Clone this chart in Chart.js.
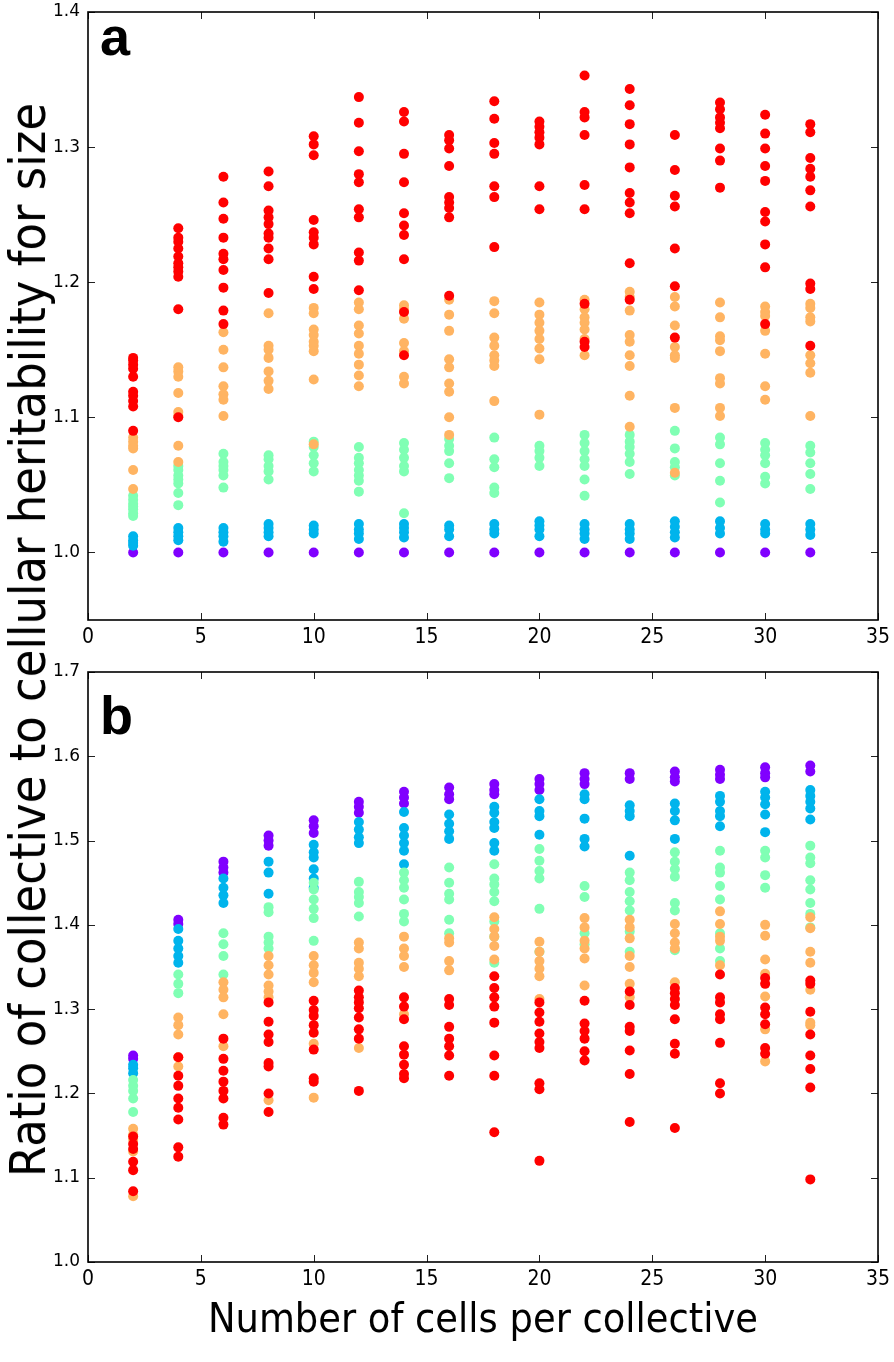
<!DOCTYPE html>
<html>
<head>
<meta charset="utf-8">
<script src="https://cdn.jsdelivr.net/npm/chart.js@4.4.0/dist/chart.umd.min.js"></script>
<style>
  html, body { margin: 0; padding: 0; background: #fff; }
  #wrap { position: relative; width: 894px; height: 1362px; overflow: hidden; background: #fff; }
  canvas { position: absolute; left: 0; }
  #chartA { top: 0; }
  #chartB { top: 660px; }
  #ytitle {
    position: absolute; left: 28px; top: 640px;
    transform: translate(-50%, -50%) rotate(-90deg);
    white-space: nowrap; color: #000;
    font: 50px "Liberation Sans Narrow", "DejaVu Sans Condensed", sans-serif;
  }
</style>
</head>
<body>
<div id="wrap">
  <canvas id="chartA" width="894" height="660"></canvas>
  <canvas id="chartB" width="894" height="702"></canvas>
  <div id="ytitle">Ratio of collective to cellular heritability for size</div>
</div>
<script>
// x positions (number of cells per collective)
const cells = [2, 4, 6, 8, 10, 12, 14, 16, 18, 20, 22, 24, 26, 28, 30, 32];
const xTicks = [0, 5, 10, 15, 20, 25, 30, 35];
const aYTicks = [1.0, 1.1, 1.2, 1.3, 1.4];
const bYTicks = [1.0, 1.1, 1.2, 1.3, 1.4, 1.5, 1.6, 1.7];

// panel a - one inner list per column
const aRed = [
  [1.144, 1.142, 1.139, 1.136, 1.130, 1.119, 1.116, 1.112, 1.108, 1.090],
  [1.240, 1.233, 1.230, 1.225, 1.219, 1.214, 1.211, 1.208, 1.204, 1.180, 1.100],
  [1.278, 1.259, 1.247, 1.233, 1.221, 1.217, 1.209, 1.196, 1.179, 1.169],
  [1.282, 1.271, 1.253, 1.248, 1.243, 1.236, 1.233, 1.225, 1.217, 1.192],
  [1.308, 1.302, 1.294, 1.246, 1.237, 1.233, 1.228, 1.204, 1.195],
  [1.337, 1.318, 1.297, 1.280, 1.274, 1.254, 1.248, 1.222, 1.216, 1.194],
  [1.326, 1.319, 1.295, 1.274, 1.251, 1.242, 1.235, 1.217, 1.178, 1.146],
  [1.309, 1.305, 1.299, 1.286, 1.263, 1.259, 1.255, 1.248, 1.190],
  [1.334, 1.321, 1.303, 1.295, 1.271, 1.263, 1.226],
  [1.319, 1.315, 1.311, 1.307, 1.302, 1.271, 1.254],
  [1.353, 1.326, 1.322, 1.309, 1.272, 1.254, 1.184, 1.156, 1.152],
  [1.343, 1.331, 1.317, 1.302, 1.285, 1.266, 1.259, 1.251, 1.214, 1.187],
  [1.309, 1.283, 1.264, 1.256, 1.225, 1.197, 1.159],
  [1.333, 1.328, 1.322, 1.318, 1.314, 1.299, 1.290, 1.270],
  [1.324, 1.310, 1.299, 1.286, 1.275, 1.252, 1.245, 1.228, 1.211, 1.169],
  [1.317, 1.311, 1.292, 1.284, 1.278, 1.268, 1.256, 1.199, 1.195, 1.153]
];
const aOrange = [
  [1.085, 1.082, 1.079, 1.077, 1.061, 1.047],
  [1.137, 1.134, 1.130, 1.118, 1.104, 1.101, 1.079, 1.067],
  [1.163, 1.150, 1.137, 1.123, 1.117, 1.113, 1.101],
  [1.177, 1.153, 1.150, 1.144, 1.134, 1.127, 1.121],
  [1.181, 1.177, 1.165, 1.161, 1.156, 1.153, 1.149, 1.128, 1.080],
  [1.185, 1.180, 1.168, 1.162, 1.153, 1.147, 1.139, 1.131, 1.123],
  [1.183, 1.180, 1.173, 1.155, 1.149, 1.130, 1.125],
  [1.187, 1.176, 1.164, 1.143, 1.137, 1.125, 1.119, 1.100, 1.087],
  [1.186, 1.177, 1.159, 1.153, 1.146, 1.142, 1.138, 1.112],
  [1.185, 1.176, 1.170, 1.164, 1.158, 1.151, 1.143, 1.102],
  [1.187, 1.180, 1.174, 1.170, 1.165, 1.158, 1.146],
  [1.193, 1.189, 1.179, 1.161, 1.156, 1.146, 1.138, 1.116, 1.093],
  [1.189, 1.182, 1.168, 1.152, 1.146, 1.144, 1.107, 1.059],
  [1.185, 1.174, 1.160, 1.157, 1.149, 1.129, 1.125, 1.107, 1.101],
  [1.182, 1.178, 1.175, 1.164, 1.147, 1.123, 1.113],
  [1.184, 1.181, 1.174, 1.171, 1.146, 1.140, 1.133, 1.101]
];
const aGreen = [
  [1.042, 1.039, 1.036, 1.034, 1.032, 1.029, 1.027],
  [1.064, 1.061, 1.057, 1.054, 1.051, 1.044, 1.035],
  [1.073, 1.067, 1.064, 1.061, 1.057, 1.048],
  [1.072, 1.069, 1.064, 1.060, 1.054],
  [1.082, 1.078, 1.072, 1.066, 1.060],
  [1.078, 1.070, 1.066, 1.061, 1.057, 1.053, 1.045],
  [1.081, 1.076, 1.070, 1.064, 1.060, 1.029],
  [1.084, 1.079, 1.075, 1.066, 1.055],
  [1.085, 1.069, 1.063, 1.048, 1.044],
  [1.079, 1.075, 1.070, 1.064],
  [1.087, 1.081, 1.075, 1.069, 1.064, 1.054, 1.042],
  [1.087, 1.082, 1.078, 1.073, 1.067, 1.058],
  [1.090, 1.077, 1.067, 1.063, 1.057],
  [1.085, 1.080, 1.066, 1.053, 1.037],
  [1.081, 1.076, 1.072, 1.066, 1.056, 1.051],
  [1.079, 1.074, 1.066, 1.058, 1.047]
];
const aBlue = [
  [1.012, 1.009, 1.007, 1.005],
  [1.018, 1.015, 1.012, 1.009],
  [1.018, 1.015, 1.012, 1.008],
  [1.021, 1.018, 1.015, 1.012],
  [1.020, 1.017, 1.014],
  [1.021, 1.017, 1.014, 1.010],
  [1.021, 1.018, 1.015, 1.011],
  [1.020, 1.017, 1.012],
  [1.021, 1.017, 1.014],
  [1.023, 1.020, 1.017, 1.012],
  [1.021, 1.017, 1.014, 1.010],
  [1.021, 1.017, 1.014, 1.010],
  [1.023, 1.019, 1.015, 1.011],
  [1.023, 1.018, 1.014],
  [1.021, 1.017, 1.014],
  [1.021, 1.017, 1.013]
];
const aPurple = [
  [1.0], [1.0], [1.0], [1.0], [1.0], [1.0], [1.0], [1.0],
  [1.0], [1.0], [1.0], [1.0], [1.0], [1.0], [1.0], [1.0]
];

// panel b
const bRed = [
  [1.149, 1.140, 1.134, 1.119, 1.109, 1.084],
  [1.243, 1.221, 1.209, 1.194, 1.183, 1.169, 1.136, 1.125],
  [1.265, 1.241, 1.227, 1.214, 1.203, 1.194, 1.171, 1.163],
  [1.308, 1.285, 1.270, 1.261, 1.236, 1.232, 1.200, 1.178],
  [1.310, 1.299, 1.292, 1.281, 1.272, 1.252, 1.218, 1.214],
  [1.322, 1.314, 1.308, 1.301, 1.290, 1.276, 1.265, 1.203],
  [1.314, 1.303, 1.288, 1.256, 1.246, 1.234, 1.223, 1.218],
  [1.312, 1.305, 1.279, 1.265, 1.256, 1.245, 1.221],
  [1.339, 1.325, 1.314, 1.303, 1.284, 1.245, 1.221, 1.154],
  [1.308, 1.296, 1.285, 1.271, 1.261, 1.254, 1.212, 1.205, 1.120],
  [1.310, 1.283, 1.274, 1.265, 1.250, 1.239],
  [1.321, 1.305, 1.279, 1.274, 1.251, 1.223, 1.166],
  [1.325, 1.319, 1.312, 1.305, 1.288, 1.259, 1.247, 1.159],
  [1.341, 1.314, 1.308, 1.294, 1.288, 1.260, 1.212, 1.200],
  [1.337, 1.330, 1.302, 1.294, 1.282, 1.254, 1.247],
  [1.334, 1.330, 1.297, 1.270, 1.245, 1.229, 1.207, 1.098]
];
const bOrange = [
  [1.158, 1.151, 1.145, 1.131, 1.078],
  [1.290, 1.281, 1.270, 1.243, 1.232],
  [1.332, 1.323, 1.314, 1.294, 1.256],
  [1.363, 1.352, 1.341, 1.328, 1.321, 1.314, 1.192],
  [1.363, 1.352, 1.343, 1.332, 1.259, 1.195],
  [1.379, 1.372, 1.355, 1.348, 1.339, 1.254],
  [1.386, 1.372, 1.363, 1.350, 1.294],
  [1.384, 1.379, 1.357, 1.346],
  [1.409, 1.395, 1.386, 1.375, 1.359],
  [1.380, 1.368, 1.357, 1.348, 1.339, 1.312],
  [1.408, 1.397, 1.381, 1.372, 1.360, 1.328],
  [1.406, 1.397, 1.384, 1.363, 1.350, 1.330, 1.314],
  [1.401, 1.390, 1.379, 1.372, 1.332],
  [1.416, 1.401, 1.386, 1.381, 1.352],
  [1.400, 1.387, 1.359, 1.342, 1.315, 1.276, 1.238],
  [1.409, 1.396, 1.368, 1.355, 1.323, 1.284, 1.281]
];
const bGreen = [
  [1.216, 1.209, 1.203, 1.194, 1.178],
  [1.341, 1.330, 1.319],
  [1.390, 1.377, 1.363, 1.341],
  [1.421, 1.415, 1.386, 1.379, 1.372],
  [1.450, 1.442, 1.430, 1.419, 1.408, 1.381],
  [1.451, 1.439, 1.433, 1.426, 1.410],
  [1.462, 1.453, 1.444, 1.430, 1.413, 1.404],
  [1.468, 1.450, 1.437, 1.430, 1.406, 1.390],
  [1.472, 1.455, 1.448, 1.439, 1.428, 1.404, 1.386, 1.355],
  [1.490, 1.476, 1.464, 1.455, 1.419, 1.368],
  [1.446, 1.433, 1.390, 1.377],
  [1.462, 1.453, 1.439, 1.428, 1.417, 1.392, 1.368],
  [1.486, 1.475, 1.466, 1.457, 1.426, 1.417, 1.370],
  [1.488, 1.468, 1.462, 1.446, 1.430, 1.390, 1.372, 1.357],
  [1.488, 1.480, 1.459, 1.444],
  [1.494, 1.480, 1.473, 1.453, 1.442, 1.426, 1.413, 1.397]
];
const bBlue = [
  [1.234, 1.230, 1.224],
  [1.395, 1.381, 1.372, 1.363, 1.355],
  [1.455, 1.444, 1.435, 1.426],
  [1.475, 1.462, 1.437],
  [1.495, 1.486, 1.480, 1.466, 1.455, 1.444],
  [1.522, 1.513, 1.504, 1.497],
  [1.534, 1.515, 1.506, 1.497, 1.488, 1.472],
  [1.531, 1.520, 1.511, 1.502],
  [1.540, 1.533, 1.522, 1.515, 1.497, 1.488],
  [1.549, 1.535, 1.529, 1.507],
  [1.555, 1.549, 1.526, 1.502, 1.493],
  [1.542, 1.535, 1.529, 1.482],
  [1.544, 1.535, 1.524, 1.502],
  [1.553, 1.546, 1.535, 1.529, 1.517],
  [1.558, 1.551, 1.543, 1.531, 1.510],
  [1.560, 1.553, 1.546, 1.538, 1.525]
];
const bPurple = [
  [1.245, 1.241],
  [1.406, 1.401],
  [1.475, 1.468, 1.462],
  [1.506, 1.500, 1.494],
  [1.524, 1.517, 1.509],
  [1.546, 1.540, 1.533],
  [1.558, 1.551, 1.544],
  [1.563, 1.555, 1.549],
  [1.567, 1.560, 1.555],
  [1.573, 1.567, 1.560],
  [1.580, 1.573, 1.567],
  [1.580, 1.573],
  [1.582, 1.575, 1.570],
  [1.584, 1.578, 1.573],
  [1.587, 1.580, 1.575],
  [1.589, 1.582]
];

// matplotlib "rainbow" at 1, .75, .5, .25, 0
const RED = "rgb(255, 0, 0)";
const ORANGE = "rgb(255, 180, 98)";
const GREEN = "rgb(128, 255, 180)";
const BLUE = "rgb(0, 180, 236)";
const PURPLE = "rgb(128, 0, 255)";

const NARROW = '"Liberation Sans Narrow", "DejaVu Sans Condensed", sans-serif';

const toPoints = (cols) => cells.flatMap((c, i) => cols[i].map(v => ({ x: c, y: v })));

const makeSet = (cols, color) => ({
  data: toPoints(cols),
  backgroundColor: color,
  borderWidth: 0,
  pointRadius: 5,
  pointHoverRadius: 5
});

// box around the plot, inward ticks on all four sides, panel letter
const frameTicks = {
  id: "frameTicks",
  afterDatasetsDraw(chart, args, opts) {
    const { ctx, chartArea: area, scales: { x, y } } = chart;
    const len = 7;
    ctx.save();
    ctx.strokeStyle = "#222";
    ctx.lineWidth = 1;
    ctx.beginPath();
    x.ticks.forEach(t => {
      const px = Math.round(x.getPixelForValue(t.value)) + 0.5;
      ctx.moveTo(px, area.bottom); ctx.lineTo(px, area.bottom - len);
      ctx.moveTo(px, area.top); ctx.lineTo(px, area.top + len);
    });
    y.ticks.forEach(t => {
      const py = Math.round(y.getPixelForValue(t.value)) + 0.5;
      ctx.moveTo(area.left, py); ctx.lineTo(area.left + len, py);
      ctx.moveTo(area.right, py); ctx.lineTo(area.right - len, py);
    });
    ctx.stroke();
    ctx.strokeStyle = "#000";
    ctx.lineWidth = 1.6;
    ctx.strokeRect(area.left, area.top, area.right - area.left, area.bottom - area.top);
    ctx.fillStyle = "#000";
    ctx.font = 'bold 54px "Liberation Sans", Arial, sans-serif';
    ctx.textBaseline = "alphabetic";
    ctx.fillText(opts.letter, area.left + 12, area.top + opts.letterY);
    ctx.restore();
  }
};

const buildPanel = (canvasId, sets, yMin, yMax, yTicks, panel) => {
  const canvas = document.getElementById(canvasId);
  return new Chart(canvas.getContext("2d"), {
    type: "scatter",
    data: {
      datasets: [
        makeSet(sets.red, RED),
        makeSet(sets.orange, ORANGE),
        makeSet(sets.green, GREEN),
        makeSet(sets.blue, BLUE),
        makeSet(sets.purple, PURPLE)
      ]
    },
    options: {
      responsive: false,
      animation: false,
      events: [],
      layout: { padding: { top: 12, right: 16, left: 0, bottom: 0 } },
      plugins: {
        legend: { display: false },
        tooltip: { enabled: false },
        frameTicks: { letter: panel.letter, letterY: panel.letterY }
      },
      scales: {
        x: {
          type: "linear",
          min: 0,
          max: 35,
          grid: { display: false, drawTicks: false },
          border: { display: false },
          afterBuildTicks: (s) => { s.ticks = xTicks.map(v => ({ value: v })); },
          afterFit: (s) => {
            s.height = panel.xAxisHeight;
            s.paddingLeft = 0;
            s.paddingRight = 0;
          },
          ticks: {
            padding: 5,
            color: "#000",
            maxRotation: 0,
            autoSkip: false,
            font: { family: NARROW, size: 21 },
            callback: (v) => String(v)
          },
          title: panel.xTitle ? {
            display: true,
            text: panel.xTitle,
            color: "#000",
            font: { family: NARROW, size: 41 },
            padding: { top: 0, bottom: 16 }
          } : { display: false }
        },
        y: {
          type: "linear",
          min: yMin,
          max: yMax,
          grid: { display: false, drawTicks: false },
          border: { display: false },
          afterBuildTicks: (s) => { s.ticks = yTicks.map(v => ({ value: v })); },
          afterFit: (s) => {
            s.width = 88;
            s.paddingTop = 0;
            s.paddingBottom = 0;
          },
          ticks: {
            padding: 8,
            color: "#000",
            autoSkip: false,
            font: { family: "DejaVu Sans", size: 17 },
            callback: (v) => Number(v).toFixed(1)
          }
        }
      }
    },
    plugins: [frameTicks]
  });
};

buildPanel("chartA",
  { red: aRed, orange: aOrange, green: aGreen, blue: aBlue, purple: aPurple },
  0.95, 1.4, aYTicks,
  { letter: "a", letterY: 43, xAxisHeight: 40, xTitle: null });

buildPanel("chartB",
  { red: bRed, orange: bOrange, green: bGreen, blue: bBlue, purple: bPurple },
  1.0, 1.7, bYTicks,
  { letter: "b", letterY: 62, xAxisHeight: 100, xTitle: "Number of cells per collective" });
</script>
</body>
</html>
